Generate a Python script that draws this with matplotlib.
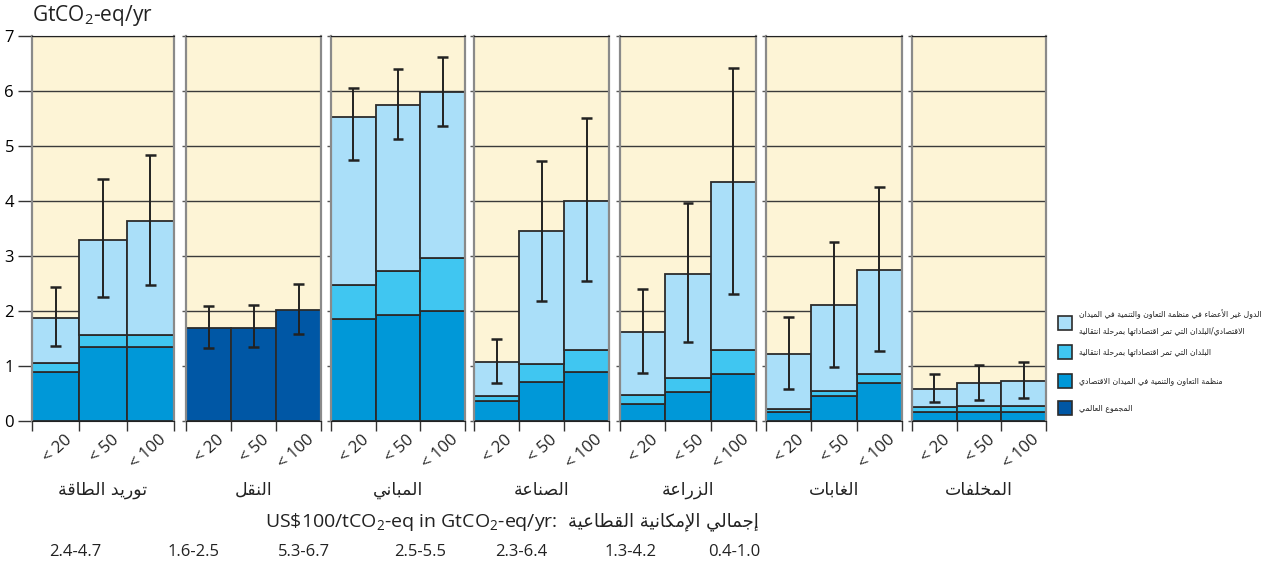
import matplotlib
matplotlib.use('Agg')
import matplotlib.pyplot as plt
from matplotlib.patches import Rectangle

plt.rcParams['font.family'] = ['Open Sans', 'DejaVu Sans']
plt.rcParams['mathtext.fontset'] = 'custom'
plt.rcParams['mathtext.rm'] = 'Open Sans'
plt.rcParams['mathtext.it'] = 'Open Sans'

# --- data -------------------------------------------------------------
sectors = ['توريد الطاقة', 'النقل', 'المباني', 'الصناعة', 'الزراعة', 'الغابات', 'المخلفات']
costs = ['< 20', '< 50', '< 100']

# stacked layers per sector (GtCO2-eq/yr) for the three carbon prices
oecd = [[0.90, 1.34, 1.34], [0, 0, 0], [1.85, 1.93, 2.00], [0.36, 0.71, 0.89],
        [0.31, 0.53, 0.86], [0.17, 0.45, 0.69], [0.17, 0.17, 0.17]]
eit = [[0.16, 0.22, 0.22], [0, 0, 0], [0.63, 0.79, 0.96], [0.09, 0.33, 0.40],
       [0.16, 0.26, 0.44], [0.05, 0.09, 0.16], [0.08, 0.10, 0.11]]
non_oecd = [[0.82, 1.74, 2.08], [0, 0, 0], [3.04, 3.03, 3.02], [0.63, 2.41, 2.71],
            [1.14, 1.88, 3.04], [1.00, 1.57, 1.90], [0.33, 0.42, 0.45]]
world = [[0, 0, 0], [1.69, 1.70, 2.01], [0, 0, 0], [0, 0, 0],
         [0, 0, 0], [0, 0, 0], [0, 0, 0]]

# uncertainty ranges (low, high)
err_low = [[1.36, 2.26, 2.48], [1.32, 1.34, 1.58], [4.75, 5.13, 5.37], [0.70, 2.19, 2.54],
           [0.87, 1.43, 2.31], [0.58, 0.99, 1.28], [0.34, 0.39, 0.41]]
err_high = [[2.44, 4.40, 4.84], [2.09, 2.11, 2.49], [6.05, 6.40, 6.61], [1.50, 4.73, 5.51],
            [2.40, 3.96, 6.42], [1.90, 3.26, 4.25], [0.85, 1.02, 1.08]]

totals = ['2.4-4.7', '1.6-2.5', '5.3-6.7', '2.5-5.5', '2.3-6.4', '1.3-4.2', '0.4-1.0']

legend_labels = [
    ['الدول غير الأعضاء في منظمة التعاون والتنمية في الميدان',
     'الاقتصادي/البلدان التي تمر اقتصاداتها بمرحلة انتقالية'],
    ['البلدان التي تمر اقتصاداتها بمرحلة انتقالية'],
    ['منظمة التعاون والتنمية في الميدان الاقتصادي'],
    ['المجموع العالمي'],
]
total_label_ar = 'إجمالي الإمكانية القطاعية'

# --- colours ----------------------------------------------------------
cream = '#fdf4d6'
c_non = '#aadff9'
c_eit = '#40c6f1'
c_oecd = '#0098d8'
c_world = '#0057a5'
edge = '#2b2b2b'


# --- minimal arabic shaping (presentation forms + visual order) -------
_letters = 'ءآأؤإئابةتثجحخدذرزسشصضطظعغفقكلمنهوىي'
_nforms = {}
_start = {}
_code = 0xFE80
for ch in _letters:
    n = 1 if ch == 'ء' else (2 if ch in 'آأؤإاةدذرزوى' else 4)
    _nforms[ch] = n
    _start[ch] = _code
    _code += n
_lam_alef = {'آ': 0xFEF5, 'أ': 0xFEF7, 'إ': 0xFEF9, 'ا': 0xFEFB}


def shape(text):
    toks = []
    i = 0
    while i < len(text):
        if text[i] == 'ل' and i + 1 < len(text) and text[i + 1] in _lam_alef:
            toks.append(('LA', text[i + 1]))
            i += 2
        else:
            toks.append(('C', text[i]))
            i += 1

    def nf(t):
        if t[0] == 'LA':
            return 2
        return _nforms.get(t[1], 0)

    out = []
    for k, t in enumerate(toks):
        n = nf(t)
        prev = k > 0 and nf(toks[k - 1]) == 4 and n >= 2
        nxt = n == 4 and k + 1 < len(toks) and nf(toks[k + 1]) >= 2
        if t[0] == 'LA':
            out.append(chr(_lam_alef[t[1]] + (1 if prev else 0)))
        elif n == 0:
            out.append(t[1])
        elif n == 1:
            out.append(chr(_start[t[1]]))
        else:
            form = 3 if (prev and nxt) else 1 if prev else 2 if nxt else 0
            out.append(chr(_start[t[1]] + form))
    return ''.join(reversed(out))


# --- figure -----------------------------------------------------------
W, H = 1266, 567
fig = plt.figure(figsize=(W / 100, H / 100), dpi=100)

panels = [(32, 174), (186, 321), (331, 465), (474, 609), (620, 756), (766, 902), (912, 1046)]
y_top, y_bot = 36, 421

x = [0, 1, 2]
for k, (l, r) in enumerate(panels):
    ax = fig.add_axes([l / W, 1 - y_bot / H, (r - l) / W, (y_bot - y_top) / H])
    ax.set_facecolor(cream)
    ax.set_xlim(0, 3)
    ax.set_ylim(0, 7)
    ax.set_axisbelow(True)
    ax.set_yticks(range(8))
    ax.yaxis.grid(True, color='#3a3a3a', lw=1.0)
    ax.set_xticks([0, 1, 2, 3])
    ax.set_xticklabels([])
    ax.tick_params(axis='x', direction='out', length=7, width=1, color='#333333')
    if k == 0:
        ax.tick_params(axis='y', direction='out', length=10, width=1, color='#333333',
                       labelsize=12, pad=3)
    else:
        ax.tick_params(axis='y', direction='out', length=3, width=1, color='#555555',
                       labelleft=False)
    for side in ('left', 'right'):
        ax.spines[side].set_color('#8a8a8a')
        ax.spines[side].set_linewidth(1.6)
    ax.spines['top'].set_color('#222222')
    ax.spines['bottom'].set_color('#222222')

    if sum(world[k]) > 0:
        ax.bar(x, world[k], width=1, align='edge', color=c_world, edgecolor=edge, lw=1.3)
    else:
        base2 = [a + b for a, b in zip(oecd[k], eit[k])]
        ax.bar(x, oecd[k], width=1, align='edge', color=c_oecd, edgecolor=edge, lw=1.3)
        ax.bar(x, eit[k], bottom=oecd[k], width=1, align='edge', color=c_eit,
               edgecolor=edge, lw=1.3)
        ax.bar(x, non_oecd[k], bottom=base2, width=1, align='edge', color=c_non,
               edgecolor=edge, lw=1.3)

    lo, hi = err_low[k], err_high[k]
    ax.vlines([i + 0.5 for i in x], lo, hi, color='#222222', lw=1.4, zorder=5)
    ax.hlines(lo, [i + 0.38 for i in x], [i + 0.62 for i in x], color='#222222', lw=1.8, zorder=5)
    ax.hlines(hi, [i + 0.38 for i in x], [i + 0.62 for i in x], color='#222222', lw=1.8, zorder=5)

    for i, c in enumerate(costs):
        ax.text(i + 0.68, -0.2, c, rotation=42, rotation_mode='anchor', ha='right',
                va='top', fontsize=12, color='#222222', clip_on=False)

    fig.text((l + r) / 2 / W, 1 - 490 / H, shape(sectors[k]), ha='center', va='center',
             fontsize=12.5, family='DejaVu Sans', color='#222222')

fig.text(32 / W, 1 - 16 / H, 'GtCO$_2$-eq/yr', ha='left', va='center', fontsize=15,
         color='#222222')

# sector totals line
fig.text(557 / W, 1 - 522 / H, 'US\\$100/tCO$_2$-eq in GtCO$_2$-eq/yr:', ha='right',
         va='center', fontsize=14, color='#222222')
fig.text(568 / W, 1 - 522 / H, shape(total_label_ar), ha='left', va='center',
         fontsize=13, family='DejaVu Sans', color='#222222')
for xc, t in zip([75, 194, 304, 420, 521, 631, 734], totals):
    fig.text(xc / W, 1 - 552 / H, t, ha='center', va='center', fontsize=12, color='#222222')

# legend: boxes plus arabic text, text shrunk so the longest line fits the right margin
legend_colors = [c_non, c_eit, c_oecd, c_world]
legend_y = [323, 352, 381, 408]
legend_texts = []
for col, yc, lines in zip(legend_colors, legend_y, legend_labels):
    fig.add_artist(Rectangle((1058 / W, 1 - (yc + 7) / H), 14 / W, 14 / H,
                             transform=fig.transFigure, facecolor=col, edgecolor=edge, lw=1.2))
    offsets = [-9, 8] if len(lines) == 2 else [0]
    for line, dy in zip(lines, offsets):
        t = fig.text(1079 / W, 1 - (yc + dy) / H, shape(line), ha='left', va='center',
                     fontsize=6.5, family='DejaVu Sans', color='#222222')
        legend_texts.append(t)

renderer = fig.canvas.get_renderer()
widest = max(t.get_window_extent(renderer).width for t in legend_texts)
size = min(6.5, 6.5 * (W - 1079 - 4) / widest)
for t in legend_texts:
    t.set_fontsize(size)

fig.savefig('out.png', dpi=100)
